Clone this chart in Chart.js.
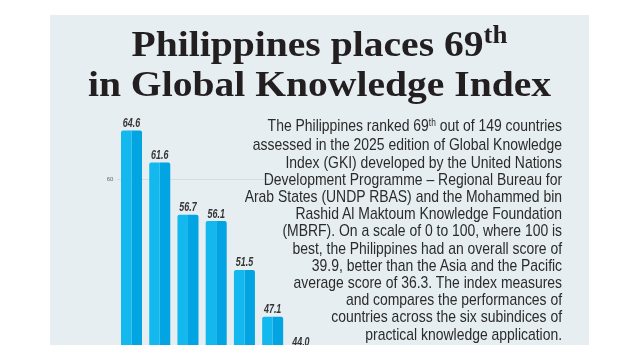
<!DOCTYPE html>
<html>
<head>
<meta charset="utf-8">
<script src="https://cdn.jsdelivr.net/npm/chart.js@4"></script>
<style>
  html, body { margin: 0; padding: 0; background: #fff; }
  body { width: 640px; height: 360px; overflow: hidden; position: relative; }
  #panel {
    position: absolute; left: 50px; top: 15px; width: 539px; height: 330px;
    background: #e6eef2; overflow: hidden;
  }
  #chartBox { position: absolute; left: 50px; top: -56px; width: 215px; height: 441px; }
  #title {
    position: absolute; left: 0; top: 11.4px; width: 539px; text-align: center;
    font-family: "Liberation Serif", serif; font-weight: bold; font-size: 36px;
    line-height: 37px; color: #231f20; transform: scaleX(1.1); transform-origin: 50% 0;
    white-space: nowrap;
  }
  #title .sup { font-size: 0.68em; position: relative; top: -0.55em; }
  #blurb {
    position: absolute; right: 27px; top: 102.2px; text-align: right;
    font-family: "Liberation Sans", sans-serif; font-size: 17px;
    line-height: 17.2px; color: #2b2b2b; white-space: nowrap;
    transform: scaleX(0.82); transform-origin: 100% 0;
  }
  #blurb .sup { font-size: 0.6em; position: relative; top: -0.55em; }
</style>
</head>
<body>
<div id="panel">
  <div id="chartBox"><canvas id="gkiChart"></canvas></div>
  <div id="title">Philippines places 69<span class="sup">th</span><br>in Global Knowledge Index</div>
  <div id="blurb">The Philippines ranked 69<span class="sup">th</span> out of 149 countries<br>assessed in the 2025 edition of Global Knowledge<br>Index (GKI) developed by the United Nations<br>Development Programme – Regional Bureau for<br>Arab States (UNDP RBAS) and the Mohammed bin<br>Rashid Al Maktoum Knowledge Foundation<br>(MBRF). On a scale of 0 to 100, where 100 is<br>best, the Philippines had an overall score of<br>39.9, better than the Asia and the Pacific<br>average score of 36.3. The index measures<br>and compares the performances of<br>countries across the six subindices of<br>practical knowledge application.</div>
</div>
<script>
// country names sit below the visible crop, so only the ranks are known
const categories = ["1st", "2nd", "3rd", "4th", "5th", "6th", "7th"];
const scores = [64.6, 61.6, 56.7, 56.1, 51.5, 47.1, 44.0];
const yMin = 40;
const yMax = 80;
const yStep = 20;

// value labels above each bar (centred on the two-tone pair)
const valueLabels = {
    id: "valueLabels",
    afterDatasetsDraw(chart) {
        const ctx = chart.ctx;
        const meta = chart.getDatasetMeta(0);
        ctx.save();
        ctx.fillStyle = "#353535";
        ctx.font = "italic bold 13.5px 'Liberation Sans', sans-serif";
        ctx.textAlign = "center";
        ctx.textBaseline = "alphabetic";
        meta.data.forEach((bar, i) => {
            const x = bar.x + bar.width / 2;
            ctx.save();
            ctx.translate(x, bar.y - 3.5);
            ctx.scale(0.66, 1);
            ctx.fillText(scores[i].toFixed(1), 0, 0);
            ctx.restore();
        });
        ctx.restore();
    }
};

const canvas = document.getElementById("gkiChart");
new Chart(canvas.getContext("2d"), {
    type: "bar",
    data: {
        labels: categories,
        datasets: [{
            data: scores,
            backgroundColor: "#13b8ef",
            borderRadius: { topLeft: 2, topRight: 0, bottomLeft: 0, bottomRight: 0 },
            borderSkipped: false,
            categoryPercentage: 0.745,
            barPercentage: 1.0
        }, {
            data: scores,
            backgroundColor: "#02a4e1",
            borderRadius: { topLeft: 0, topRight: 2, bottomLeft: 0, bottomRight: 0 },
            borderSkipped: false,
            categoryPercentage: 0.745,
            barPercentage: 1.0
        }]
    },
    options: {
        responsive: true,
        maintainAspectRatio: false,
        animation: false,
        layout: { padding: 0 },
        plugins: { legend: { display: false }, tooltip: { enabled: false } },
        scales: {
            x: { display: false },
            y: {
                min: yMin,
                max: yMax,
                border: { display: false },
                grid: { color: "#d4dde3", lineWidth: 1, drawTicks: false },
                ticks: {
                    stepSize: yStep,
                    padding: 4,
                    color: "#666",
                    font: { family: "'Liberation Sans', sans-serif", size: 6 }
                },
                afterFit(scale) { scale.width = 17.4; }
            }
        }
    },
    plugins: [valueLabels]
});
</script>
</body>
</html>
